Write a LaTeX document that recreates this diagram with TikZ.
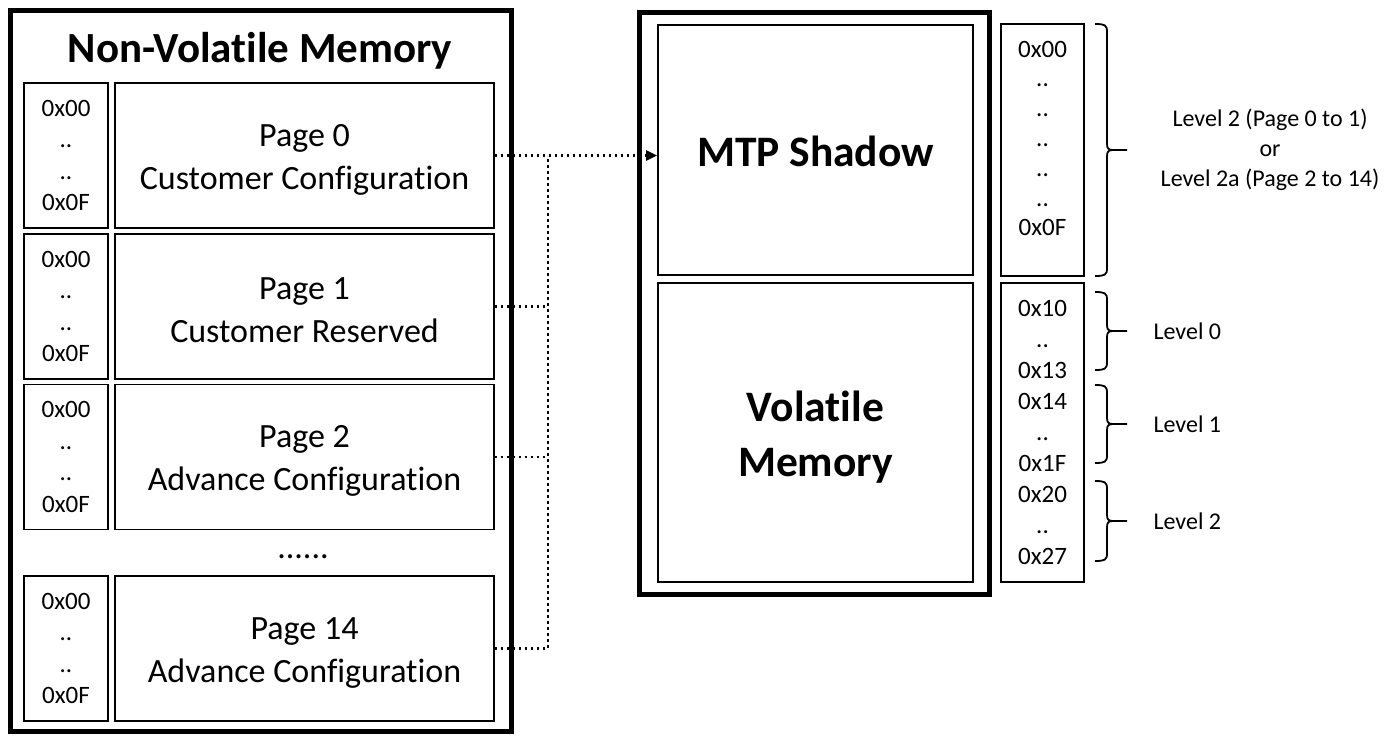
\documentclass[tikz,border=0pt]{standalone}
\usepackage{fontspec}
\setmainfont{Carlito}[Ligatures={NoCommon}]
\usetikzlibrary{arrows.meta}
\newcommand\mybrace[3]{%
  \draw[brc] (1095,#1) .. controls (1105,#1) and (1107,#1+1) .. (1107,#1+8)
    -- (1107,#3-6) .. controls (1107,#3-1) and (1109,#3) .. (1113,#3) -- (1127,#3)
    (1113,#3) .. controls (1109,#3) and (1107,#3+1) .. (1107,#3+6)
    -- (1107,#2-8) .. controls (1107,#2-1) and (1105,#2) .. (1095,#2);}
\begin{document}
\begin{tikzpicture}[x=1pt,y=-1pt,
  thinbox/.style={draw, line width=1.8pt, inner sep=0pt, align=center},
  thickbox/.style={draw, line width=5pt, inner sep=0pt},
  addr/.style={font=\fontsize{25}{31.5}\selectfont},
  pagetxt/.style={font=\fontsize{34}{43}\selectfont},
  bigtxt/.style={font=\fontsize{43.5}{55}\selectfont\bfseries},
  conn/.style={line width=2.5pt, dash pattern=on 2.5pt off 3.5pt},
  brc/.style={line width=1.8pt},
  lbl/.style={font=\fontsize{24}{30}\selectfont, align=center}]
\useasboundingbox (0,0) rectangle (1397,736);
% Non-volatile memory
\node[thickbox, minimum width=500.5pt, minimum height=720.5pt] (nvm) at (260.75,370.75) {};
\node[anchor=base, font=\fontsize{43}{55}\selectfont\bfseries] (nvmt) at (260,62) {Non-Volatile Memory};
\foreach \n/\y/\p/\d in {0/155.5/Page 0/Customer Configuration,
                         1/306.5/Page 1/Customer Reserved,
                         2/457/Page 2/Advance Configuration,
                         14/648.5/Page 14/Advance Configuration}{
  \node[thinbox, addr, minimum width=84pt, minimum height=145pt] (a\n) at (66,\y) {0x00\\..\\..\\0x0F};
  \node[thinbox, pagetxt, minimum width=379pt, minimum height=145pt] (p\n) at (304.5,\y) {\strut\p\\\d};
}
\node[anchor=base, pagetxt] (more) at (303,558) {......};
% MTP / volatile
\node[thickbox, minimum width=349.5pt, minimum height=581.5pt] (ram) at (814.25,303.25) {};
\node[thinbox, minimum width=315pt, minimum height=250pt] (mtp) at (815.5,150) {};
\node[anchor=base, bigtxt] (mtpt) at (815.5,166) {MTP Shadow};
\node[thinbox, minimum width=315pt, minimum height=299pt] (vol) at (815.5,432.5) {};
\node[anchor=base, bigtxt] (volt1) at (815.5,421) {Volatile};
\node[anchor=base, bigtxt] (volt2) at (815.5,476) {Memory};
% address columns
\node[thinbox, minimum width=83pt, minimum height=252pt] (r1) at (1042.5,150) {};
\node[align=center, font=\fontsize{25}{29.8}\selectfont] (r1t) at (1042.5,138.5) {0x00\\..\\..\\..\\..\\..\\0x0F};
\node[thinbox, font=\fontsize{25}{31}\selectfont, minimum width=83pt, minimum height=299pt] (r2) at (1042.5,432.5)
  {0x10\\..\\0x13\\0x14\\..\\0x1F\\0x20\\..\\0x27};
% braces and labels
\mybrace{24}{276}{150}
\mybrace{292}{370}{331}
\mybrace{385}{463}{424}
\mybrace{481}{561}{521}
\node[lbl] (l2) at (1270,150) {Level 2 (Page 0 to 1)\\or\\Level 2a (Page 2 to 14)};
\node[lbl, anchor=west] (l0) at (1150,331) {Level 0};
\node[lbl, anchor=west] (l1) at (1150,424) {Level 1};
\node[lbl, anchor=west] (l2b) at (1150,521) {Level 2};
% connectors
\path (p0.east) ++(53,0) coordinate (jt);
\draw[conn, -{Triangle[length=11pt, width=10pt]}] (p0.east) -- (p0.east -| mtp.west);
\draw[conn] (p14.east) -| (jt);
\draw[conn] (p1.east) -- (p1.east -| jt);
\draw[conn] (p2.east) -- (p2.east -| jt);
\end{tikzpicture}
\end{document}
